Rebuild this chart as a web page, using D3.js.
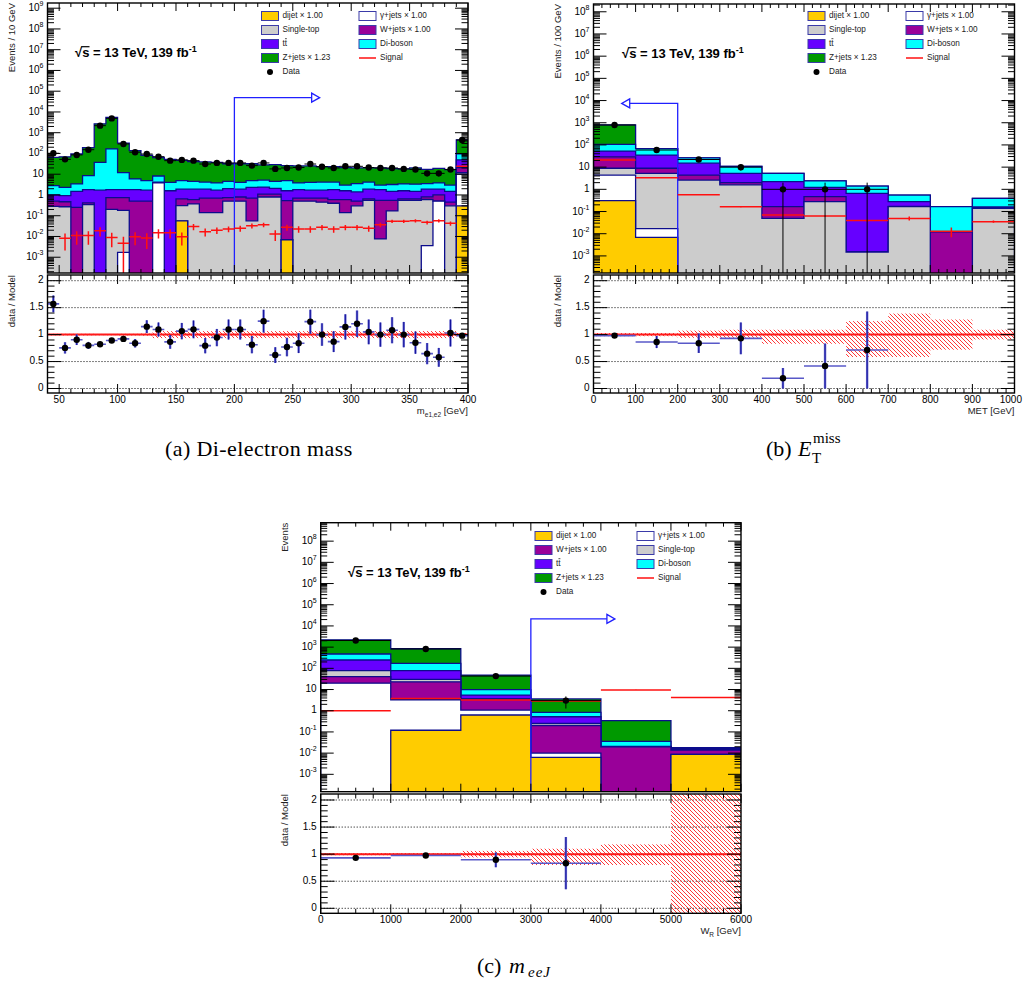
<!DOCTYPE html>
<html><head><meta charset="utf-8">
<script src="https://cdn.jsdelivr.net/npm/d3@7"></script>
<style>
body{margin:0;background:#fff}
svg text{font-family:"Liberation Sans",Arial,Helvetica,sans-serif}
svg text.cap{font-family:"Liberation Serif","Times New Roman",serif}
</style>
</head><body>
<svg id="fig" width="1024" height="984"></svg>
<script>
// ---------------- (a) di-electron invariant mass, 10 GeV bins ----------------
const massEdges = [40,50,60,70,80,90,100,110,120,130,140,150,160,170,180,190,200,210,220,230,240,250,260,270,280,290,300,310,320,330,340,350,360,370,380,390,400];
const massDijet = [0,0,0,0,0,0,0,0,0,0,0,0.057,0,0,0,0,0,0,0,0,0.0068,0,0,0,0,0,0,0,0,0,0,0,0,0,0,0.3];
const massGamma = [0,0,0,0,0,0,0.0017,0,0,3.8,0,0,0,0,0,0,0,0,0,0,0,0,0,0,0,0,0,0,0,0,0,0,0.0036,0.5,0,9.7];
const massSingleTop = [0.28,0.27,0,0.34,0,0.2,0.18,0,0,0,0,0.25,0.37,0.14,0.14,0.5,0.5,0.057,0.8,0.8,0,0.5,0.5,0.45,0.4,0.14,0.3,0.55,0.0076,0.17,0.55,0.55,0.6,0,0.3,2];
const massWjets = [0.22,0.2,0.25,0.08,0,0.55,0.57,0.5,0.5,0,0,0.34,0.23,0.56,0.56,0.25,0.3,0.64,0.3,0.3,0.53,0.2,0.2,0.25,0.2,0.46,0.2,0.1,0.54,0.38,0.1,0.1,0.2,0.5,0.15,9];
const massTtbar = [0.5,0.46,1.25,1.38,1.7,1.05,1.05,1.3,1.2,0.4,1.6,1.25,1.3,1.2,1.0,1.25,1.1,1.6,1.3,1.0,1.06,1.1,1.0,1.0,1.2,1.0,0.9,1.25,1.25,0.95,0.95,0.85,1.1,0.9,1.05,28];
const massDiboson = [1.8,1.37,1.9,6.7,35.3,163,10.2,4.1,3.2,4.0,2.4,3.0,2.6,2.3,2.1,2.5,2.1,2.6,2.8,2.4,3.3,2.0,2.3,2.5,2.4,1.4,2.1,2.3,1.2,1.7,1.8,1.8,1.6,1.9,1.5,46];
const massZjets = [62.2,66.7,90.6,181.5,2633,5335,301,131,77,55.8,48,41.1,36.5,34.8,33.2,27.5,28,27.1,22.8,24.5,21.1,21.2,21,18.8,18.8,18,16.5,15.8,17,15.3,14.6,16.7,13.5,15.2,13.5,359];
const massData = [102,52,85,152,2190,4900,288,115,94,70,45,49,45,31,35,35,35,26,35,18,20,21,31,23,20,24,24,21,20,20,18,17,11,11,17,445];
const massSignal = [0,0.0081,0.011,0.011,0.019,0.009,0.0047,0.0098,0.0085,0.015,0.015,0.0097,0.03,0.017,0.02,0.023,0.025,0.033,0.037,0.013,0.028,0.023,0.023,0.028,0.023,0.028,0.028,0.025,0.037,0.054,0.054,0.057,0.048,0.057,0.043,24];
const massSignalErr = [0,0.006,0.007,0.007,0.009,0.006,0.005,0.006,0.006,0.007,0.007,0.006,0.01,0.007,0.007,0.007,0.008,0.009,0.009,0.007,0.009,0.008,0.008,0.008,0.008,0.008,0.008,0.008,0.009,0.01,0.01,0.01,0.01,0.01,0.01,1.2];
const massBandUp = [0.015,0.015,0.015,0.015,0.012,0.012,0.015,0.015,0.02,0.065,0.065,0.065,0.065,0.065,0.065,0.065,0.065,0.065,0.065,0.065,0.065,0.065,0.065,0.065,0.065,0.065,0.065,0.065,0.065,0.065,0.065,0.065,0.065,0.065,0.065,0.03];
const massBandDown = massBandUp;
const massTicks = [50,100,150,200,250,300,350,400];

// ---------------- (b) missing transverse energy, 100 GeV bins ----------------
const metEdges = [0,100,200,300,400,500,600,700,800,900,1000];
const metDijet = [0.31,0.0069,0,0,0,0,0,0,0,0];
const metGamma = [4.09,0.0101,0,0,0,0,0,0,0,0];
const metSingleTop = [4.5,5.18,2.6,1.6,0.049,0.28,0.0015,0.165,0,0.14];
const metWjets = [20.1,3.7,1.8,0.4,0.116,0.19,0,0.005,0.012,0.01];
const metTtbar = [24,26.1,10.6,3.2,2.04,0.76,0.66,0.11,0,0.01];
const metDiboson = [54,33,11,5.5,3.0,1.17,0.74,0.27,0.153,0.23];
const metZjets = [698,0.5,0.2,0.05,0.05,0,0,0,0,0];
const metData = [790,59,22,10,1,1,1,0,0,0];
const metSignal = [21,3.3,0.57,0.165,0.07,0.063,0.039,0.049,0.013,0.035];
const metSignalErr = [0.3,0.1,0.02,0.01,0.005,0.005,0.004,0.01,0.006,0.004];
const metBandUp = [0.03,0.03,0.074,0.09,0.09,0.09,0.25,0.39,0.28,0.09];
const metBandDown = [0.03,0.03,0.06,0.06,0.17,0.17,0.415,0.415,0.28,0.09];
const metTicks = [0,100,200,300,400,500,600,700,800,900,1000];

// ---------------- (c) m_eeJ (W_R candidate mass), 1 TeV bins ----------------
const wrEdges = [0,1000,2000,3000,4000,5000,6000];
const wrDijet = [0,0.12,0.63,0.0063,0,0.0087];
const wrGamma = [20,3.18,0.44,0.0037,0,0];
const wrWjets = [21,19.7,2.43,0.19,0.02,0.0053];
const wrSingleTop = [37,7,0.2,0.05,0,0];
const wrTtbar = [169,48,1.8,0.27,0.001,0.001];
const wrDiboson = [228,94,4.3,0.31,0.015,0.002];
const wrZjets = [1725,668,38.2,2.77,0.304,0.001];
const wrData = [2050,820,43,3,0,0];
const wrSignal = [1.0,3.8,3.2,2.9,9.6,4.2];
const wrSignalErr = [0.02,0.05,0.05,0.05,0.1,0.06];
const wrBandUp = [0.02,0.02,0.06,0.1,0.18,1.2];
const wrBandDown = [0.02,0.02,0.06,0.2,0.2,1.1];
const wrTicks = [0,1000,2000,3000,4000,5000,6000];

const ratioTicks = [0,0.5,1,1.5,2];

// process colours
const C = {dijet:"#ffcc00", gamma:"#ffffff", single:"#cccccc", wjets:"#990099",
           ttbar:"#6600ff", diboson:"#00ffff", zjets:"#009900"};
const OUTLINE = "#0c0c8c";
const ARROW = "#2020ff";

const svg = d3.select("#fig");
const defs = svg.append("defs");
const hatch = defs.append("pattern").attr("id","hatch").attr("patternUnits","userSpaceOnUse")
  .attr("width",4).attr("height",4);
hatch.append("path").attr("d","M-1,-1 L5,5 M-1,3 L1,5 M3,-1 L5,1").attr("stroke","#ff2020").attr("stroke-width",0.9);

let clipCount = 0;

function logLabel(g, x, y, e, fs) {
  const t = g.append("text").attr("x",x).attr("y",y).attr("text-anchor","end")
    .attr("font-size",fs).attr("fill","#000").attr("dominant-baseline","middle");
  if (e === 0) t.text("1");
  else if (e === 1) t.text("10");
  else {
    t.append("tspan").text("10");
    t.append("tspan").attr("dy",-fs*0.4).attr("font-size",fs*0.7).text(String(e));
  }
}

function drawPanel(p) {
  const g = svg.append("g");
  const nb = p.edges.length - 1;
  const x = d3.scaleLinear().domain([p.edges[0], p.edges[nb]]).range([p.left, p.right]);
  const y = d3.scaleLog().domain([Math.pow(10,p.logLo), Math.pow(10,p.logHi)]).range([p.bottom, p.top]);
  const yy = v => v > 0 ? Math.min(y(v), p.bottom + 2) : p.bottom + 2;

  const cid = "clip" + (clipCount++);
  defs.append("clipPath").attr("id",cid).append("rect")
    .attr("x",p.left).attr("y",p.top).attr("width",p.right-p.left).attr("height",p.bottom-p.top);
  const plot = g.append("g").attr("clip-path",`url(#${cid})`);

  // stacked backgrounds, drawn from the outermost cumulative layer inwards
  const series = d3.stack().keys(d3.range(p.layers.length))
    .value((i,k) => p.layers[k].vals[i])(d3.range(nb));
  const area = d3.area().curve(d3.curveStepAfter);
  for (let k = p.layers.length - 1; k >= 0; k--) {
    const tops = series[k].map(s => s[1]);
    area.x(j => x(p.edges[j])).y0(p.bottom + 2).y1(j => yy(tops[Math.min(j, nb-1)]));
    plot.append("path").datum(d3.range(nb+1)).attr("d",area)
      .attr("fill",p.layers[k].color).attr("stroke",OUTLINE).attr("stroke-width",1.3)
      .attr("stroke-linejoin","miter");
  }

  // selection arrow
  const ar = p.arrow;
  const ax = x(ar.x), ay = y(ar.top), tip = x(ar.to);
  const dir = tip > ax ? 1 : -1;
  plot.append("path").attr("d",`M${ax},${p.bottom+2}L${ax},${ay}L${tip - dir*8},${ay}`)
    .attr("fill","none").attr("stroke",ARROW).attr("stroke-width",1.3);
  plot.append("path").attr("d",`M${tip - dir*8},${ay-4.5}L${tip},${ay}L${tip - dir*8},${ay+4.5}Z`)
    .attr("fill","#fff").attr("stroke",ARROW).attr("stroke-width",1.3);

  // signal
  const sig = plot.append("g").attr("stroke","#ff1010").attr("stroke-width",1.5);
  p.signal.forEach((v,i) => {
    if (!(v > 0)) return;
    const x0 = x(p.edges[i]), x1 = x(p.edges[i+1]), xc = (x0+x1)/2;
    sig.append("line").attr("x1",x0).attr("x2",x1).attr("y1",yy(v)).attr("y2",yy(v));
    const e = p.sigErr[i];
    if (e > 0) sig.append("line").attr("x1",xc).attr("x2",xc).attr("y1",yy(v+e)).attr("y2",yy(v-e));
  });

  // data
  const dat = plot.append("g");
  p.data.forEach((n,i) => {
    if (!(n > 0)) return;
    const x0 = x(p.edges[i]), x1 = x(p.edges[i+1]), xc = (x0+x1)/2, e = Math.sqrt(n);
    dat.append("line").attr("x1",x0).attr("x2",x1).attr("y1",yy(n)).attr("y2",yy(n))
      .attr("stroke","#000").attr("stroke-width",1);
    dat.append("line").attr("x1",xc).attr("x2",xc).attr("y1",yy(n+e)).attr("y2",yy(n-e))
      .attr("stroke","#000").attr("stroke-width",1);
    dat.append("circle").attr("cx",xc).attr("cy",yy(n)).attr("r",3.2).attr("fill","#000");
  });

  // frame and ticks of the main pad
  const ax_ = g.append("g").attr("stroke","#000").attr("fill","none");
  const minors = d3.range(p.edges[0], p.edges[nb] + 1e-9, p.xMinor);
  minors.forEach(v => {
    const major = p.xTicks.some(t => Math.abs(t - v) < 1e-6);
    const len = major ? 8 : 4;
    ax_.append("line").attr("x1",x(v)).attr("x2",x(v)).attr("y1",p.bottom).attr("y2",p.bottom-len).attr("stroke-width",1);
    ax_.append("line").attr("x1",x(v)).attr("x2",x(v)).attr("y1",p.top).attr("y2",p.top+len).attr("stroke-width",1);
  });
  for (let e = Math.floor(p.logLo); e <= Math.ceil(p.logHi); e++) {
    for (let m = 1; m <= 9; m++) {
      const v = m * Math.pow(10, e), lv = Math.log10(v);
      if (lv < p.logLo || lv > p.logHi) continue;
      const len = m === 1 ? 13 : 6.5;
      ax_.append("line").attr("x1",p.left).attr("x2",p.left+len).attr("y1",y(v)).attr("y2",y(v)).attr("stroke-width",1);
      ax_.append("line").attr("x1",p.right).attr("x2",p.right-len).attr("y1",y(v)).attr("y2",y(v)).attr("stroke-width",1);
      if (m === 1) logLabel(g, p.left - 4, y(v), e, 10);
    }
  }
  ax_.append("rect").attr("x",p.left).attr("y",p.top).attr("width",p.right-p.left)
    .attr("height",p.bottom-p.top).attr("stroke-width",1.4);

  g.append("text").attr("transform",`translate(${p.yTitleX},${p.top})rotate(-90)`)
    .attr("text-anchor","end").attr("dominant-baseline","middle").attr("font-size",9.5)
    .attr("fill","#222").text(p.yTitle);

  // energy / luminosity label
  const lab = g.append("text").attr("x",p.labX).attr("y",p.labY).attr("font-size",13)
    .attr("font-weight","bold").attr("fill","#000");
  lab.append("tspan").text("\u221as = 13 TeV, 139 fb");
  lab.append("tspan").attr("dy",-5).attr("font-size",9).text("-1");
  g.append("line").attr("x1",p.labX+6.2).attr("x2",p.labX+14.5).attr("y1",p.labY-10.3).attr("y2",p.labY-10.3)
    .attr("stroke","#000").attr("stroke-width",1.2);

  // legend
  const L = p.legend;
  L.entries.forEach((en,i) => {
    const col = i % 2, row = Math.floor(i / 2);
    const bx = col === 0 ? L.x1 : L.x2, cy = L.y0 + row * L.dy;
    if (en.type === "box") {
      g.append("rect").attr("x",bx).attr("y",cy-4.5).attr("width",17).attr("height",9)
        .attr("fill",en.color).attr("stroke","#3a3aa8").attr("stroke-width",1);
    } else if (en.type === "line") {
      g.append("line").attr("x1",bx).attr("x2",bx+17).attr("y1",cy).attr("y2",cy)
        .attr("stroke","#ff1010").attr("stroke-width",1.5);
    } else {
      g.append("circle").attr("cx",bx+8.5).attr("cy",cy).attr("r",3).attr("fill","#000");
    }
    const t = g.append("text").attr("x",bx+21).attr("y",cy).attr("dominant-baseline","middle")
      .attr("font-size",8.2).attr("fill","#222").text(en.label);
    if (en.bar) {
      const w = t.node().getComputedTextLength();
      g.append("line").attr("x1",bx+21+w/2+0.2).attr("x2",bx+21+w-0.2)
        .attr("y1",cy-5.3).attr("y2",cy-5.3).attr("stroke","#222").attr("stroke-width",0.8);
    }
  });

  // ---------- ratio pad ----------
  const r = p.ratio;
  const ry = d3.scaleLinear().domain([0,2]).range([r.y0, r.y2]);
  const rid = "clip" + (clipCount++);
  defs.append("clipPath").attr("id",rid).append("rect")
    .attr("x",p.left).attr("y",r.top).attr("width",p.right-p.left).attr("height",r.bottom-r.top);
  const rp = g.append("g").attr("clip-path",`url(#${rid})`);
  const totals = d3.range(nb).map(i => series[p.layers.length-1][i][1]);

  ratioTicks.forEach(v => rp.append("line").attr("x1",p.left).attr("x2",p.right)
    .attr("y1",ry(v)).attr("y2",ry(v)).attr("stroke","#000").attr("stroke-width",1)
    .attr("stroke-dasharray","1,2"));
  p.bandUp.forEach((u,i) => {
    rp.append("rect").attr("x",x(p.edges[i])).attr("width",x(p.edges[i+1])-x(p.edges[i]))
      .attr("y",ry(1+u)).attr("height",ry(1-p.bandDown[i])-ry(1+u)).attr("fill","url(#hatch)");
  });
  rp.append("line").attr("x1",p.left).attr("x2",p.right).attr("y1",ry(1)).attr("y2",ry(1))
    .attr("stroke","#ff1a1a").attr("stroke-width",2);
  p.data.forEach((n,i) => {
    if (!(n > 0)) return;
    const v = n / totals[i], e = Math.sqrt(n) / totals[i];
    const x0 = x(p.edges[i]), x1 = x(p.edges[i+1]), xc = (x0+x1)/2;
    rp.append("line").attr("x1",x0).attr("x2",x1).attr("y1",ry(v)).attr("y2",ry(v))
      .attr("stroke","#5858c8").attr("stroke-width",1.6);
    rp.append("line").attr("x1",xc).attr("x2",xc).attr("y1",ry(v+e)).attr("y2",ry(Math.max(v-e,-0.2)))
      .attr("stroke","#6a6ad0").attr("stroke-width",2.4);
    rp.append("line").attr("x1",xc).attr("x2",xc).attr("y1",ry(v+e)).attr("y2",ry(Math.max(v-e,-0.2)))
      .attr("stroke","#10109a").attr("stroke-width",1);
    rp.append("circle").attr("cx",xc).attr("cy",ry(v)).attr("r",3.2).attr("fill","#000");
  });

  const rax = g.append("g").attr("stroke","#000").attr("fill","none");
  minors.forEach(v => {
    const major = p.xTicks.some(t => Math.abs(t - v) < 1e-6);
    const len = major ? 9 : 4.5;
    rax.append("line").attr("x1",x(v)).attr("x2",x(v)).attr("y1",r.bottom).attr("y2",r.bottom-len).attr("stroke-width",1);
    rax.append("line").attr("x1",x(v)).attr("x2",x(v)).attr("y1",r.top).attr("y2",r.top+len).attr("stroke-width",1);
  });
  d3.range(0, 21).forEach(k => {
    const v = k / 10, len = k % 5 === 0 ? 14 : 7;
    rax.append("line").attr("x1",p.left).attr("x2",p.left+len).attr("y1",ry(v)).attr("y2",ry(v)).attr("stroke-width",1);
    rax.append("line").attr("x1",p.right).attr("x2",p.right-len).attr("y1",ry(v)).attr("y2",ry(v)).attr("stroke-width",1);
  });
  rax.append("rect").attr("x",p.left).attr("y",r.top).attr("width",p.right-p.left)
    .attr("height",r.bottom-r.top).attr("stroke-width",1.4);
  ratioTicks.forEach(v => g.append("text").attr("x",p.left-4).attr("y",ry(v))
    .attr("text-anchor","end").attr("dominant-baseline","middle").attr("font-size",10).text(String(v)));
  p.xTicks.forEach(v => {
    const t = g.append("text").attr("x",x(v)).attr("y",r.bottom+7)
      .attr("text-anchor","middle").attr("dominant-baseline","middle").attr("font-size",10).text(String(v));
    const w = t.node().getComputedTextLength();
    if (x(v) + w/2 > 1022) t.attr("text-anchor","end").attr("x",1022);
  });
  g.append("text").attr("transform",`translate(${p.yTitleX},${r.top})rotate(-90)`)
    .attr("text-anchor","end").attr("dominant-baseline","middle").attr("font-size",9.5)
    .attr("fill","#222").text("data / Model");

  const xt = g.append("text").attr("x",p.right).attr("y",r.bottom+21).attr("text-anchor","end")
    .attr("font-size",9.5).attr("fill","#222");
  xt.append("tspan").text(p.xTitle[0]);
  if (p.xTitle[1]) {
    xt.append("tspan").attr("dy",2.5).attr("font-size",6.5).text(p.xTitle[1]);
    xt.append("tspan").attr("dy",-2.5).text(p.xTitle[2]);
  }
}

const entriesAB = [
  {label:"dijet \u00d7 1.00", type:"box", color:C.dijet},
  {label:"\u03b3+jets \u00d7 1.00", type:"box", color:C.gamma},
  {label:"Single-top", type:"box", color:C.single},
  {label:"W+jets \u00d7 1.00", type:"box", color:C.wjets},
  {label:"tt", type:"box", color:C.ttbar, bar:true},
  {label:"Di-boson", type:"box", color:C.diboson},
  {label:"Z+jets \u00d7 1.23", type:"box", color:C.zjets},
  {label:"Signal", type:"line"},
  {label:"Data", type:"dot"}
];
const entriesC = [
  {label:"dijet \u00d7 1.00", type:"box", color:C.dijet},
  {label:"\u03b3+jets \u00d7 1.00", type:"box", color:C.gamma},
  {label:"W+jets \u00d7 1.00", type:"box", color:C.wjets},
  {label:"Single-top", type:"box", color:C.single},
  {label:"tt", type:"box", color:C.ttbar, bar:true},
  {label:"Di-boson", type:"box", color:C.diboson},
  {label:"Z+jets \u00d7 1.23", type:"box", color:C.zjets},
  {label:"Signal", type:"line"},
  {label:"Data", type:"dot"}
];

drawPanel({
  edges: massEdges, left:47.5, right:468, top:3, bottom:273, logLo:-3.76, logHi:9.25,
  layers: [
    {vals:massDijet, color:C.dijet}, {vals:massGamma, color:C.gamma},
    {vals:massSingleTop, color:C.single}, {vals:massWjets, color:C.wjets},
    {vals:massTtbar, color:C.ttbar}, {vals:massDiboson, color:C.diboson},
    {vals:massZjets, color:C.zjets}],
  data: massData, signal: massSignal, sigErr: massSignalErr,
  bandUp: massBandUp, bandDown: massBandDown,
  xTicks: massTicks, xMinor: 10,
  arrow: {x:200, top:Math.pow(10,4.69), to:273},
  yTitle: "Events / 10 GeV", yTitleX: 12,
  labX: 75, labY: 57,
  legend: {x1:261.5, x2:359, y0:16, dy:14, entries:entriesAB},
  ratio: {top:275, bottom:393, y0:388.5, y2:280.7},
  xTitle: ["m", "e1,e2", " [GeV]"]
});

drawPanel({
  edges: metEdges, left:593.5, right:1014.5, top:4, bottom:273, logLo:-3.77, logHi:8.35,
  layers: [
    {vals:metDijet, color:C.dijet}, {vals:metGamma, color:C.gamma},
    {vals:metSingleTop, color:C.single}, {vals:metWjets, color:C.wjets},
    {vals:metTtbar, color:C.ttbar}, {vals:metDiboson, color:C.diboson},
    {vals:metZjets, color:C.zjets}],
  data: metData, signal: metSignal, sigErr: metSignalErr,
  bandUp: metBandUp, bandDown: metBandDown,
  xTicks: metTicks, xMinor: 20,
  arrow: {x:200, top:Math.pow(10,3.87), to:67},
  yTitle: "Events / 100 GeV", yTitleX: 558,
  labX: 622, labY: 58,
  legend: {x1:808, x2:906, y0:16, dy:14, entries:entriesAB},
  ratio: {top:275, bottom:393, y0:388.5, y2:280.7},
  xTitle: ["MET [GeV]"]
});

drawPanel({
  edges: wrEdges, left:320.7, right:741, top:522.7, bottom:791.7, logLo:-3.82, logHi:8.87,
  layers: [
    {vals:wrDijet, color:C.dijet}, {vals:wrGamma, color:C.gamma},
    {vals:wrWjets, color:C.wjets}, {vals:wrSingleTop, color:C.single},
    {vals:wrTtbar, color:C.ttbar}, {vals:wrDiboson, color:C.diboson},
    {vals:wrZjets, color:C.zjets}],
  data: wrData, signal: wrSignal, sigErr: wrSignalErr,
  bandUp: wrBandUp, bandDown: wrBandDown,
  xTicks: wrTicks, xMinor: 250,
  arrow: {x:3000, top:Math.pow(10,4.33), to:4200},
  yTitle: "Events", yTitleX: 285,
  labX: 348, labY: 577,
  legend: {x1:535, x2:637, y0:536, dy:14, entries:entriesC},
  ratio: {top:794, bottom:913.3, y0:908.3, y2:800},
  xTitle: ["W", "R", " [GeV]"]
});

// sub-figure captions
svg.append("text").attr("class","cap").attr("x",165).attr("y",456)
  .attr("font-size",22).attr("letter-spacing",0.4).text("(a) Di-electron mass");

svg.append("text").attr("class","cap").attr("x",766).attr("y",456).attr("font-size",22).text("(b)");
svg.append("text").attr("class","cap").attr("x",798).attr("y",456).attr("font-size",22)
  .attr("font-style","italic").text("E");
svg.append("text").attr("class","cap").attr("x",813).attr("y",443).attr("font-size",15).text("miss");
svg.append("text").attr("class","cap").attr("x",812).attr("y",463).attr("font-size",15).text("T");

svg.append("text").attr("class","cap").attr("x",477).attr("y",973).attr("font-size",22).text("(c)");
svg.append("text").attr("class","cap").attr("x",509).attr("y",973).attr("font-size",22)
  .attr("font-style","italic").text("m");
svg.append("text").attr("class","cap").attr("x",528).attr("y",977).attr("font-size",15)
  .attr("font-style","italic").attr("letter-spacing",1).text("eeJ");
</script>
</body></html>
